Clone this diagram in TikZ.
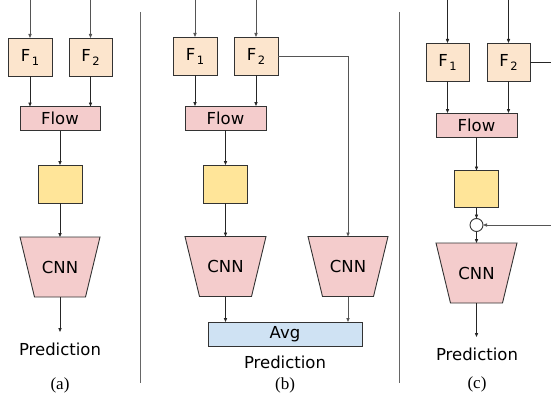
\documentclass[tikz,border=0pt]{standalone}
\usepackage{fontspec}
\setmainfont{DejaVu Sans}
\newfontfamily\capfont{Liberation Serif}
\usetikzlibrary{arrows.meta}
\definecolor{peach}{HTML}{FCE5CD}
\definecolor{pinkf}{HTML}{F4CCCC}
\definecolor{yel}{HTML}{FFE599}
\definecolor{bluef}{HTML}{CFE2F3}
\definecolor{bord}{HTML}{333333}
\definecolor{sep}{HTML}{666666}
\definecolor{gline}{HTML}{555555}
\begin{document}
\begin{tikzpicture}[x=1pt,y=-1pt,
  every node/.style={font=\fontsize{16.5}{18}\selectfont, inner sep=0pt, outer sep=0pt},
  fbox/.style={draw=bord, line width=0.9pt, fill=peach, minimum width=44pt, minimum height=38pt},
  flowbox/.style={draw=bord, line width=0.9pt, fill=pinkf, minimum width=81pt, minimum height=24pt},
  ybox/.style={draw=bord, line width=0.9pt, fill=yel, minimum width=44pt, minimum height=38pt},
  avgbox/.style={draw=bord, line width=0.9pt, fill=bluef, minimum width=154pt, minimum height=24pt},
  cnnframe/.style={minimum width=81pt, minimum height=60pt},
  cnnshape/.style={draw=bord, line width=0.9pt, fill=pinkf},
  circ/.style={draw=bord, line width=0.9pt, fill=white, circle, minimum size=13pt},
  arr/.style={line width=0.8pt, draw=black!85, -{Triangle[length=4pt,width=3.2pt]}},
  garr/.style={line width=0.8pt, draw=gline, -{Triangle[length=4pt,width=3.2pt]}},
  seprule/.style={line width=1pt, draw=sep},
  pred/.style={font=\fontsize{16.5}{18}\selectfont},
  caption/.style={font=\capfont\fontsize{17}{18}\selectfont}
]
\useasboundingbox (0,0) rectangle (551,396);
\newcommand{\Fsub}[1]{F\kern1.5pt\raisebox{-4pt}{\fontsize{11.5}{11}\selectfont #1}}
\newcommand{\cnnat}[1]{%
  \draw[cnnshape] (#1.north west) -- (#1.north east)
     -- ([xshift=-14.5pt]#1.south east) -- ([xshift=14.5pt]#1.south west) -- cycle;
  \node at (#1.center) {CNN};}

% separators
\coordinate (s1t) at (140,12); \coordinate (s1b) at (140,383);
\coordinate (s2t) at (399,12); \coordinate (s2b) at (399,383);
\draw[seprule] (s1t) -- (s1b);
\draw[seprule] (s2t) -- (s2b);

% ---------- panel (a)
\node[fbox] (af1) at (30,57) {\Fsub{1}};
\node[fbox, minimum width=43pt] (af2) at (90.5,57) {\Fsub{2}};
\node[flowbox, minimum width=80pt] (aflow) at (60,118.5) {Flow};
\node[ybox] (ay) at (60,184) {};
\node[cnnframe, minimum width=80pt] (acnn) at (60,267) {};
\cnnat{acnn}
\node[pred] (apred) at (60,349) {Prediction};
\node[caption] (acap) at (60,385) {(a)};
\coordinate (ain1) at (30,0); \coordinate (ain2) at (90.5,0);
\coordinate (aout) at (60,332);
\draw[garr] (ain1) -- (af1.north);
\draw[garr] (ain2) -- (af2.north);
\draw[arr] (af1.south) -- (af1.south |- aflow.north);
\draw[arr] (af2.south) -- (af2.south |- aflow.north);
\draw[arr] (aflow.south) -- (ay.north);
\draw[arr] (ay.south) -- (acnn.north);
\draw[arr] (acnn.south) -- (aout);

% ---------- panel (b)
\node[fbox] (bf1) at (195,56) {\Fsub{1}};
\node[fbox] (bf2) at (256,56) {\Fsub{2}};
\node[flowbox] (bflow) at (225.5,118) {Flow};
\node[ybox] (by) at (225.5,184) {};
\node[cnnframe] (bcnn1) at (225.5,266.5) {};
\cnnat{bcnn1}
\node[cnnframe, minimum width=80pt] (bcnn2) at (348,266.5) {};
\cnnat{bcnn2}
\node[avgbox] (bavg) at (285,334) {Avg};
\node[pred] (bpred) at (285,362) {Prediction};
\node[caption] (bcap) at (285,385) {(b)};
\coordinate (bin1) at (195,0); \coordinate (bin2) at (256,0);
\coordinate (bturn) at (348,56);
\draw[garr] (bin1) -- (bf1.north);
\draw[garr] (bin2) -- (bf2.north);
\draw[arr] (bf1.south) -- (bf1.south |- bflow.north);
\draw[arr] (bf2.south) -- (bf2.south |- bflow.north);
\draw[arr] (bflow.south) -- (by.north);
\draw[arr] (by.south) -- (bcnn1.north);
\draw[garr] (bf2.east) -- (bturn) -- (bcnn2.north);
\draw[arr] (bcnn1.south) -- (bcnn1.south |- bavg.north);
\draw[garr] (bcnn2.south) -- (bcnn2.south |- bavg.north);

% ---------- panel (c)
\node[fbox, minimum width=43pt] (cf1) at (447.5,62) {\Fsub{1}};
\node[fbox, minimum width=43pt] (cf2) at (508.5,62) {\Fsub{2}};
\node[flowbox] (cflow) at (476.5,125) {Flow};
\node[ybox, minimum height=37pt] (cy) at (476.5,189) {};
\node[circ] (cc) at (476.5,225) {};
\node[cnnframe] (ccnn) at (476.5,273) {};
\cnnat{ccnn}
\node[pred] (cpred) at (477,354) {Prediction};
\node[caption] (ccap) at (477,384) {(c)};
\coordinate (cin1) at (447.5,0); \coordinate (cin2) at (508.5,0);
\coordinate (cright) at (551,62);
\coordinate (cside) at (551,225);
\coordinate (cout) at (476.5,337);
\draw[arr] (cin1) -- (cf1.north);
\draw[arr] (cin2) -- (cf2.north);
\draw[arr] (cf1.south) -- (cf1.south |- cflow.north);
\draw[arr] (cf2.south) -- (cf2.south |- cflow.north);
\draw[arr] (cflow.south) -- (cy.north);
\draw[arr] (cy.south) -- (cc.north);
\draw[arr] (cc.south) -- (ccnn.north);
\draw[line width=0.8pt, draw=black!85] (cf2.east) -- (cright);
\draw[garr] (cside) -- (cc.east);
\draw[arr] (ccnn.south) -- (cout);
\end{tikzpicture}
\end{document}
